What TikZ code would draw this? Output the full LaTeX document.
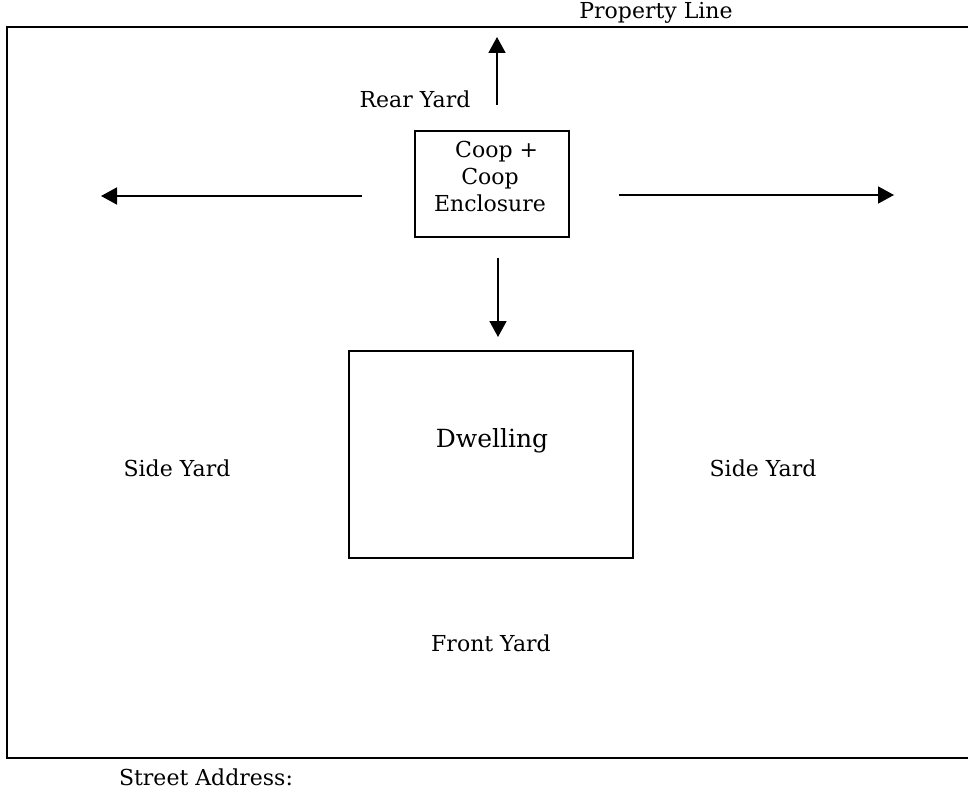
\documentclass[tikz,border=0pt]{standalone}
\usepackage{fontspec}
\setmainfont{DejaVu Serif}
\usetikzlibrary{arrows.meta}

\begin{document}
\begin{tikzpicture}[x=0.5pt, y=-0.5pt, font=\fontsize{11}{13.5}\selectfont,
  yard/.style = {inner sep=0pt},
  box/.style = {draw, line width=0.7pt},
  arr/.style = {line width=0.9pt, -{Triangle[length=8pt, width=8.5pt]}}]
\useasboundingbox (0,0) rectangle (968,792);

% property line
\draw[line width=1pt] (968,27) -- (7,27) -- (7,758) -- (968,758);
\node[yard] (prop) at (656,13) {Property Line};
\node[yard] (street) at (206,777) {Street Address:};

% coop and dwelling
\draw[box] (415,131) rectangle (569,237);
\node[yard, align=center] (coop) at (490,176) {\hspace*{0.6em}Coop +\\Coop\hspace*{0.8em}\\Enclosure};
\draw[box] (349,351) rectangle (633,558);
\node[yard, font=\fontsize{12.5}{15}\selectfont] (dwelling) at (492,441) {Dwelling};

% yards
\node[yard] (rear) at (415,99) {Rear Yard};
\node[yard] (sideL) at (177,468) {Side Yard};
\node[yard] (sideR) at (763,468) {Side Yard};
\node[yard] (front) at (491,643) {Front Yard};

% arrows
\coordinate (upA) at (497,105);
\coordinate (upB) at (497,37);
\coordinate (leftA) at (362,196);
\coordinate (leftB) at (101,196);
\coordinate (rightA) at (619,195);
\coordinate (rightB) at (894,195);
\coordinate (downA) at (498,258);
\coordinate (downB) at (498,337);
\draw[arr] (upA) -- (upB);
\draw[arr] (leftA) -- (leftB);
\draw[arr] (rightA) -- (rightB);
\draw[arr] (downA) -- (downB);

\end{tikzpicture}
\end{document}
